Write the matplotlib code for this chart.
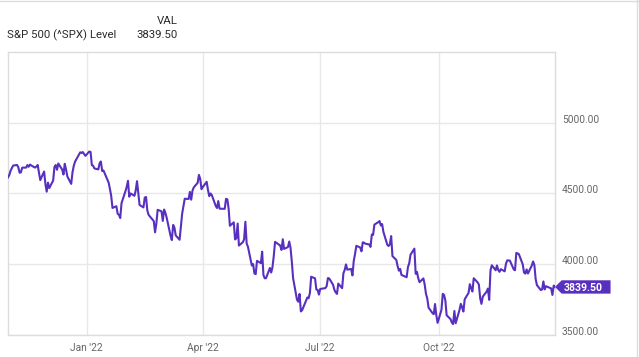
import matplotlib
matplotlib.use("Agg")
import matplotlib.pyplot as plt
import pandas as pd
from matplotlib.patches import Polygon
from matplotlib.transforms import Affine2D, ScaledTranslation
from pandas.tseries.offsets import CustomBusinessDay

plt.rcParams['font.family'] = ['Roboto', 'DejaVu Sans']

C_LINE = "#5830c0"
C_GRID = "#e8e8e8"
C_EDGE = "#dcdcdc"
C_TICK = "#666666"
C_TXT = "#2a2a2a"

# S&P 500 daily closes, Nov 2021 .. Dec 2022 (one list per month)
nov21 = [4613.67, 4630.65, 4660.57, 4680.06, 4697.53, 4701.70, 4685.25, 4646.71, 4649.27, 4682.85,
         4682.80, 4700.90, 4688.67, 4704.54, 4697.96, 4682.94, 4690.70, 4701.46, 4594.62, 4655.27, 4567.00]
dec21 = [4513.04, 4577.10, 4538.43, 4591.67, 4686.75, 4701.21, 4667.45, 4712.02, 4668.97, 4634.09,
         4709.85, 4668.67, 4620.64, 4568.02, 4649.23, 4696.56, 4725.79, 4791.19, 4786.35, 4793.06,
         4778.73, 4766.18]
jan22 = [4796.56, 4793.54, 4700.58, 4696.05, 4677.03, 4670.29, 4713.07, 4726.35, 4659.03, 4662.85,
         4577.11, 4532.76, 4482.73, 4397.94, 4410.13, 4356.45, 4349.93, 4326.51, 4431.85, 4515.55]
feb22 = [4546.54, 4589.38, 4477.44, 4500.53, 4483.87, 4521.54, 4587.18, 4504.08, 4418.64, 4401.67,
         4471.07, 4475.01, 4380.26, 4348.87, 4304.76, 4225.50, 4288.70, 4384.65, 4373.94]
mar22 = [4306.26, 4386.54, 4363.49, 4328.87, 4201.09, 4170.70, 4277.88, 4259.52, 4204.31, 4173.11,
         4262.45, 4357.86, 4411.67, 4463.12, 4461.18, 4511.61, 4456.24, 4520.16, 4543.06, 4575.52,
         4631.60, 4602.45, 4530.41]
apr22 = [4545.86, 4582.64, 4525.12, 4481.15, 4500.21, 4488.28, 4412.53, 4397.45, 4446.59, 4392.59,
         4391.69, 4462.21, 4459.45, 4393.66, 4271.78, 4296.12, 4175.20, 4183.96, 4287.50, 4131.93]
may22 = [4155.38, 4175.48, 4300.17, 4146.87, 4123.34, 3991.24, 4001.05, 3935.18, 3930.08, 4023.89,
         4008.01, 4088.85, 3923.68, 3900.79, 3901.36, 3973.75, 3941.48, 3978.73, 4057.84, 4158.24, 4132.15]
jun22 = [4101.23, 4176.82, 4108.54, 4121.43, 4160.68, 4115.77, 4017.82, 3900.86, 3749.63, 3735.48,
         3789.99, 3666.77, 3674.84, 3764.79, 3759.89, 3795.73, 3911.74, 3900.11, 3821.55, 3818.83, 3785.38]
jul22 = [3825.33, 3831.39, 3845.08, 3902.62, 3899.38, 3854.43, 3818.80, 3801.78, 3790.38, 3863.16,
         3830.85, 3936.69, 3959.90, 3998.95, 3961.63, 3966.84, 3921.05, 4023.61, 4072.43, 4130.29]
aug22 = [4118.63, 4091.19, 4155.17, 4151.94, 4145.19, 4140.06, 4122.47, 4210.24, 4207.27, 4280.15,
         4297.14, 4305.20, 4274.04, 4283.74, 4228.48, 4137.99, 4128.73, 4140.77, 4199.12, 4057.66,
         4030.61, 3986.16, 3955.00]
sep22 = [3966.85, 3924.26, 3908.19, 3979.87, 4006.18, 4067.36, 4110.41, 3932.69, 3946.01, 3901.35,
         3873.33, 3899.89, 3855.93, 3789.93, 3757.99, 3693.23, 3655.04, 3647.29, 3719.04, 3640.47, 3585.62]
oct22 = [3678.43, 3790.93, 3783.28, 3744.52, 3639.66, 3612.39, 3588.84, 3577.03, 3669.91, 3583.07,
         3677.95, 3719.98, 3695.16, 3665.78, 3752.75, 3797.34, 3859.11, 3830.60, 3807.30, 3901.06, 3871.98]
nov22 = [3856.10, 3759.69, 3719.89, 3770.55, 3806.80, 3828.11, 3748.57, 3956.37, 3992.93, 3957.25,
         3991.73, 3958.79, 3946.56, 3965.34, 3949.94, 4003.58, 4027.26, 4026.12, 3963.94, 3957.63, 4080.11]
dec22 = [4076.57, 4071.70, 3998.84, 3941.26, 3933.92, 3963.51, 3934.38, 3990.56, 4019.65, 3995.32,
         3895.75, 3852.36, 3817.66, 3821.62, 3878.44, 3822.39, 3844.82, 3829.25, 3783.22, 3849.28, 3839.50]

holidays = ["2021-11-25", "2021-12-24", "2022-01-17", "2022-02-21", "2022-04-15", "2022-05-30",
            "2022-06-20", "2022-07-04", "2022-09-05", "2022-11-24", "2022-12-26"]
y_ticks = [3500, 4000, 4500, 5000]
x_ticks = ["2022-01-01", "2022-04-01", "2022-07-01", "2022-10-01"]
x_labels = ["Jan '22", "Apr '22", "Jul '22", "Oct '22"]
last_val = 3839.50

values = (nov21 + dec21 + jan22 + feb22 + mar22 + apr22 + may22 + jun22 +
          jul22 + aug22 + sep22 + oct22 + nov22 + dec22)
dates = pd.date_range("2021-11-01", "2022-12-30", freq=CustomBusinessDay(holidays=holidays))
n = min(len(dates), len(values))
dates, values = dates[:n], values[:n]

fig = plt.figure(figsize=(6.39, 3.57), dpi=100)
fig.patch.set_facecolor("white")
ax = fig.add_axes([8/639, 22/357, 547/639, 283/357])

ax.plot(dates, values, color=C_LINE, lw=1.5, solid_joinstyle="round", zorder=3)
ax.set_xlim(pd.Timestamp("2021-11-01"), pd.Timestamp("2022-12-30"))
ax.set_ylim(3500, 5500)

ax.set_yticks(y_ticks)
ax.set_yticklabels([f"{v:.2f}" for v in y_ticks])
ax.yaxis.tick_right()
ax.set_xticks(pd.to_datetime(x_ticks))
ax.set_xticklabels(x_labels)
ax.tick_params(axis="y", length=0, pad=5, labelsize=7.3, labelcolor=C_TICK)
ax.tick_params(axis="x", length=0, pad=5.5, labelsize=7.3, labelcolor=C_TICK)
for lab in ax.get_yticklabels():
    lab.set_verticalalignment("baseline")
ax.grid(True, color=C_GRID, lw=1.0, zorder=0)
ax.set_axisbelow(True)
for s in ax.spines.values():
    s.set_color(C_EDGE); s.set_linewidth(1.0)

# last-value badge pointing at the right edge
tr = (Affine2D().scale(1/72.) + fig.dpi_scale_trans +
      ScaledTranslation(1.0, last_val, ax.get_yaxis_transform()))
ax.add_patch(Polygon([(0, 0), (4.8, 4.8), (40, 4.8), (40, -4.8), (4.8, -4.8)], closed=True,
                     transform=tr, fc=C_LINE, ec="none", clip_on=False, zorder=5))
ax.text(20.5, 0, f"{last_val:.2f}", transform=tr, ha="center", va="center_baseline",
        color="white", fontsize=7.6, fontweight="bold", zorder=6)

# header
fig.text(178/639, 1 - 21/357, "VAL", ha="right", va="center", color=C_TXT, fontsize=8.2)
fig.text(7/639, 1 - 35/357, "S&P 500 (^SPX) Level", ha="left", va="center", color=C_TXT, fontsize=8.2)
fig.text(178/639, 1 - 35/357, f"{last_val:.2f}", ha="right", va="center", color=C_TXT, fontsize=8.2)

# outer frame lines (top and right)
fig.add_artist(plt.Line2D([0, 1], [0.998, 0.998], color=C_EDGE, lw=1.0, transform=fig.transFigure))
fig.add_artist(plt.Line2D([637/639, 637/639], [0, 1], color=C_EDGE, lw=1.0, transform=fig.transFigure))

fig.savefig("out.png", dpi=100, facecolor="white")
